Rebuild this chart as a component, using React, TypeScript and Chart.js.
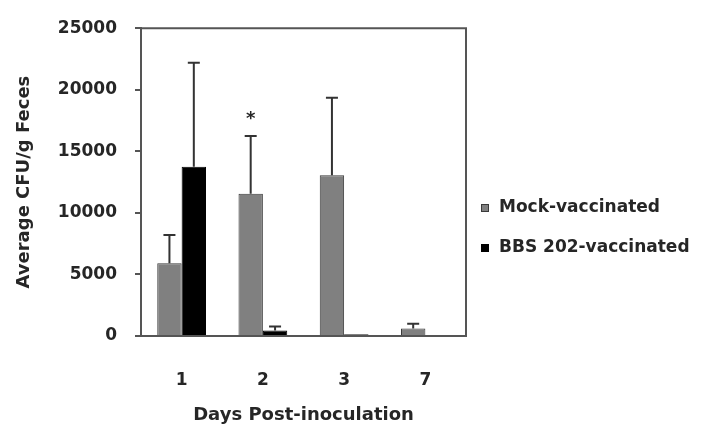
import React, { useEffect, useRef } from "react";
import { Chart, registerables } from "chart.js";

Chart.register(...registerables);

const categories = ["1", "2", "3", "7"];
const seriesNames = ["Mock-vaccinated", "BBS 202-vaccinated"];
const mockValues = [5900, 11550, 13050, 600];
const mockErrors = [2300, 4700, 6300, 400];
const bbsValues = [13750, 450, 150, 0];
const bbsErrors = [8450, 330, 0, 0];
const mockMarks = ["", "*", "", ""];
const yTicks = [0, 5000, 10000, 15000, 20000, 25000];

const FONT = "'DejaVu Sans', 'Liberation Sans', Arial, sans-serif";
const TEXT = "#262626";
const LINE = "#555";

const errorPlugin = {
  id: "errorBars",
  afterDatasetsDraw(chart: any) {
    const { ctx } = chart;
    const yScale = chart.scales.y;
    const errs = [mockErrors, bbsErrors];
    const marks = [mockMarks, null as any];
    ctx.save();
    chart.data.datasets.forEach((ds: any, i: number) => {
      const meta = chart.getDatasetMeta(i);
      meta.data.forEach((bar: any, j: number) => {
        const v = ds.data[j];
        const e = errs[i][j];
        let topY = yScale.getPixelForValue(v);
        if (e > 0) {
          topY = yScale.getPixelForValue(v + e);
          ctx.strokeStyle = "#333";
          ctx.lineWidth = 2;
          ctx.beginPath();
          ctx.moveTo(bar.x, bar.y);
          ctx.lineTo(bar.x, topY);
          ctx.moveTo(bar.x - 6, topY);
          ctx.lineTo(bar.x + 6, topY);
          ctx.stroke();
        }
        const m = marks[i] ? marks[i][j] : "";
        if (m) {
          ctx.fillStyle = TEXT;
          ctx.font = `bold 18px ${FONT}`;
          ctx.textAlign = "center";
          ctx.textBaseline = "middle";
          ctx.fillText(m, bar.x, topY - 17);
        }
      });
    });
    const a = chart.chartArea;
    ctx.strokeStyle = LINE;
    ctx.lineWidth = 2;
    ctx.beginPath();
    ctx.moveTo(a.left, a.top);
    ctx.lineTo(a.right, a.top);
    ctx.lineTo(a.right, a.bottom);
    ctx.stroke();

    // legend, drawn to the right of the plot area
    ctx.font = `bold 17px ${FONT}`;
    ctx.textAlign = "left";
    ctx.textBaseline = "middle";
    chart.data.datasets.forEach((ds: any, i: number) => {
      const y = 208 + i * 40;
      const bx = a.right + 15;
      ctx.fillStyle = ds.backgroundColor;
      ctx.fillRect(bx, y - 4, 8, 8);
      ctx.strokeStyle = ds.borderColor;
      ctx.lineWidth = 1;
      ctx.strokeRect(bx + 0.5, y - 3.5, 7, 7);
      ctx.fillStyle = TEXT;
      ctx.fillText(ds.label, bx + 18, y);
    });
    ctx.restore();
  },
};

export default function App() {
  const ref = useRef<HTMLCanvasElement>(null);
  useEffect(() => {
    document.body.style.margin = "0";
    const chart = new Chart(ref.current!, {
      type: "bar",
      data: {
        labels: categories,
        datasets: [
          {
            label: seriesNames[0],
            data: mockValues,
            backgroundColor: "#808080",
            borderColor: "#3a3a3a",
            borderWidth: 1,
            categoryPercentage: 0.6,
            barPercentage: 1.0,
          },
          {
            label: seriesNames[1],
            data: bbsValues,
            backgroundColor: "#000000",
            borderColor: "#000000",
            borderWidth: 1,
            categoryPercentage: 0.6,
            barPercentage: 1.0,
          },
        ],
      },
      options: {
        responsive: false,
        animation: false,
        layout: { padding: { top: 22, right: 238, bottom: 0, left: 0 } },
        plugins: {
          tooltip: { enabled: false },
          legend: { display: false },
        },
        scales: {
          x: {
            grid: { display: false },
            border: { display: true, color: LINE, width: 2 },
            ticks: {
              color: TEXT,
              padding: 26,
              font: { family: FONT, size: 17, weight: "bold" },
            },
            title: {
              display: true,
              text: "Days Post-inoculation",
              color: TEXT,
              font: { family: FONT, size: 18, weight: "bold" },
              padding: { top: 0, bottom: 3 },
            },
            afterFit(scale: any) {
              scale.height = 93;
            },
          },
          y: {
            min: 0,
            max: 25000,
            afterBuildTicks(scale: any) {
              scale.ticks = yTicks.map((v) => ({ value: v }));
            },
            grid: {
              display: true,
              drawOnChartArea: false,
              drawTicks: true,
              tickLength: 6,
              color: LINE,
              lineWidth: 2,
            },
            border: { display: true, color: LINE, width: 2 },
            ticks: {
              color: TEXT,
              padding: 18,
              font: { family: FONT, size: 17, weight: "bold" },
              callback: (v: any) => String(v),
            },
            title: {
              display: true,
              text: "Average CFU/g Feces",
              color: TEXT,
              font: { family: FONT, size: 18, weight: "bold" },
              padding: { top: 14, bottom: 4 },
            },
            afterFit(scale: any) {
              scale.width = 141;
            },
          },
        },
      },
      plugins: [errorPlugin],
    } as any);
    return () => chart.destroy();
  }, []);
  return (
    <div style={{ width: 704, height: 429, background: "#fff" }}>
      <canvas ref={ref} width={704} height={429} />
    </div>
  );
}
